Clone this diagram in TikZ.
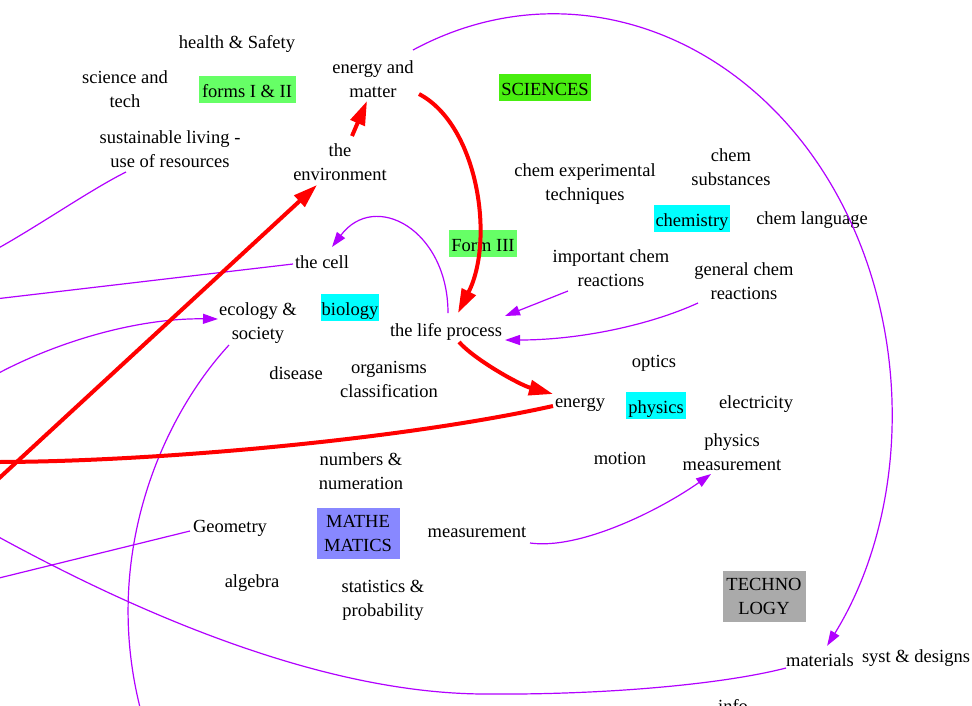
\documentclass[tikz,border=0pt]{standalone}
\usepackage{fontspec}
\setmainfont{Liberation Serif}
\usetikzlibrary{arrows.meta,calc}
\definecolor{purp}{RGB}{178,0,255}
\definecolor{fgreen}{RGB}{102,255,102}
\definecolor{sgreen}{RGB}{72,238,16}
\definecolor{cyanbox}{RGB}{0,255,255}
\definecolor{mathbox}{RGB}{136,136,255}
\definecolor{techbox}{RGB}{170,170,170}
\begin{document}
\begin{tikzpicture}[x=1pt,y=-1pt,
 lbl/.style={font=\fontsize{18.5}{24}\selectfont, align=center, inner sep=1pt},
 tagbox/.style={lbl, inner sep=0pt, fill=#1},
 onebox/.style={tagbox=#1, text height=21pt, text depth=6pt},
 redarr/.style={draw=red, line width=4pt, -{Triangle[length=24pt,width=15pt]}},
 redline/.style={draw=red, line width=4pt},
 parr/.style={draw=purp, line width=1.2pt, -{Triangle[length=15pt,width=10pt]}},
 pline/.style={draw=purp, line width=1.2pt}]
\useasboundingbox (0,0) rectangle (972,705);
\fill[white] (0,0) rectangle (972,705);
% boxes
\node[onebox=fgreen, minimum width=97pt] (forms) at (247,89.5) {forms I \& II};
\node[onebox=sgreen, minimum width=92pt] (sci) at (545,87.5) {SCIENCES};
\node[onebox=cyanbox, minimum width=76pt] (chem) at (692,218.5) {chemistry};
\node[onebox=fgreen, minimum width=68pt] (f3) at (483,243.5) {Form III};
\node[onebox=cyanbox, minimum width=58pt] (bio) at (350,307.5) {biology};
\node[onebox=cyanbox, minimum width=60pt] (phys) at (656,405.5) {physics};
\node[tagbox=mathbox, minimum width=83pt, minimum height=51pt] (math) at (358,533.5) {MATHE\\MATICS};
\node[tagbox=techbox, minimum width=83pt, minimum height=51pt] (tech) at (764,596.5) {TECHNO\\LOGY};
% labels
\node[lbl] (hs) at (237,44) {health \& Safety};
\node[lbl] (st) at (125,89) {science and\\tech};
\node[lbl] (em) at (373,79) {energy and\\matter};
\node[lbl] (sust) at (170,149) {sustainable living -\\use of resources};
\node[lbl] (env) at (340,162) {the\\environment};
\node[lbl] (cexp) at (585,184) {chem experimental\\techniques};
\node[lbl] (csub) at (731,167) {chem\\substances};
\node[lbl] (clang) at (812,220) {chem language};
\node[lbl] (cell) at (322,262) {the cell};
\node[lbl] (imp) at (611,268) {important chem\\reactions};
\node[lbl] (gen) at (744,281) {general chem\\reactions};
\node[lbl] (eco) at (258,323) {ecology \&\\society};
\node[lbl] (life) at (446,332) {the life process};
\node[lbl] (dis) at (296,373) {disease};
\node[lbl] (org) at (389,379) {organisms\\classification};
\node[lbl] (opt) at (654,363) {optics};
\node[lbl] (energy) at (580,405) {energy};
\node[lbl] (elec) at (756,404) {electricity};
\node[lbl] (pmeas) at (732,452) {physics\\measurement};
\node[lbl] (motion) at (620,458) {motion};
\node[lbl] (num) at (361,471) {numbers \&\\numeration};
\node[lbl] (geo) at (230,528) {Geometry};
\node[lbl] (meas) at (477,532) {measurement};
\node[lbl] (alg) at (252,583) {algebra};
\node[lbl] (stat) at (383,600) {statistics \&\\probability};
\node[lbl] (mat) at (820,660) {materials};
\node[lbl] (syst) at (916,658) {syst \& designs};
\node[lbl] (info) at (733,706) {info};
% free ends
\coordinate (L1) at (-5,482);
\coordinate (L2) at (-5,462);
\coordinate (L3) at (-5,250);
\coordinate (L4) at (-5,299);
\coordinate (L5) at (-5,375);
\coordinate (L6) at (142,715);
\coordinate (L7) at (-5,579);
\coordinate (L8) at (-5,535);
% purple connectors
\draw[parr] ($(em)+(40,-29)$) arc[start angle=-114.6, end angle=36, x radius=338, y radius=398];
\draw[pline] ($(sust)+(-44,23)$) .. controls (90,190) and (40,225) .. (L3);
\draw[parr] ($(life)+(2,-19)$) .. controls (448,230) and (375,190) .. ($(cell)+(10,-15)$);
\draw[pline] ($(cell)+(-29,2)$) -- (L4);
\draw[parr] (L5) .. controls (60,340) and (140,318) .. ($(eco)+(-40,-4)$);
\draw[pline] ($(eco)+(-29,22)$) .. controls (160,420) and (100,560) .. (L6);
\draw[parr] ($(imp)+(-43,23)$) -- ($(life)+(59,-16)$);
\draw[parr] ($(gen)+(-46,22)$) .. controls (650,325) and (580,340) .. ($(life)+(59,8)$);
\draw[parr] ($(meas)+(53,11)$) .. controls (580,550) and (660,510) .. ($(pmeas)+(-21,22)$);
\draw[pline] ($(geo)+(-40,3)$) -- (L7);
\draw[pline] (L8) .. controls (150,620) and (330,694) .. (486,694) .. controls (600,695) and (720,685) .. ($(mat)+(-34,8)$);
% red connectors
\draw[redarr] (L1) -- ($(env)+(-23,23)$);
\draw[redarr] ($(env)+(12,-26)$) -- ($(em)+(-6,22)$);
\draw[redarr] ($(em)+(46,15)$) .. controls (478,125) and (495,240) .. ($(life)+(12,-19)$);
\draw[redarr] ($(life)+(13,10)$) .. controls (475,360) and (520,385) .. ($(energy)+(-27,-11)$);
\draw[redline] ($(energy)+(-27,1)$) .. controls (400,440) and (150,462) .. (L2);
\end{tikzpicture}
\end{document}
